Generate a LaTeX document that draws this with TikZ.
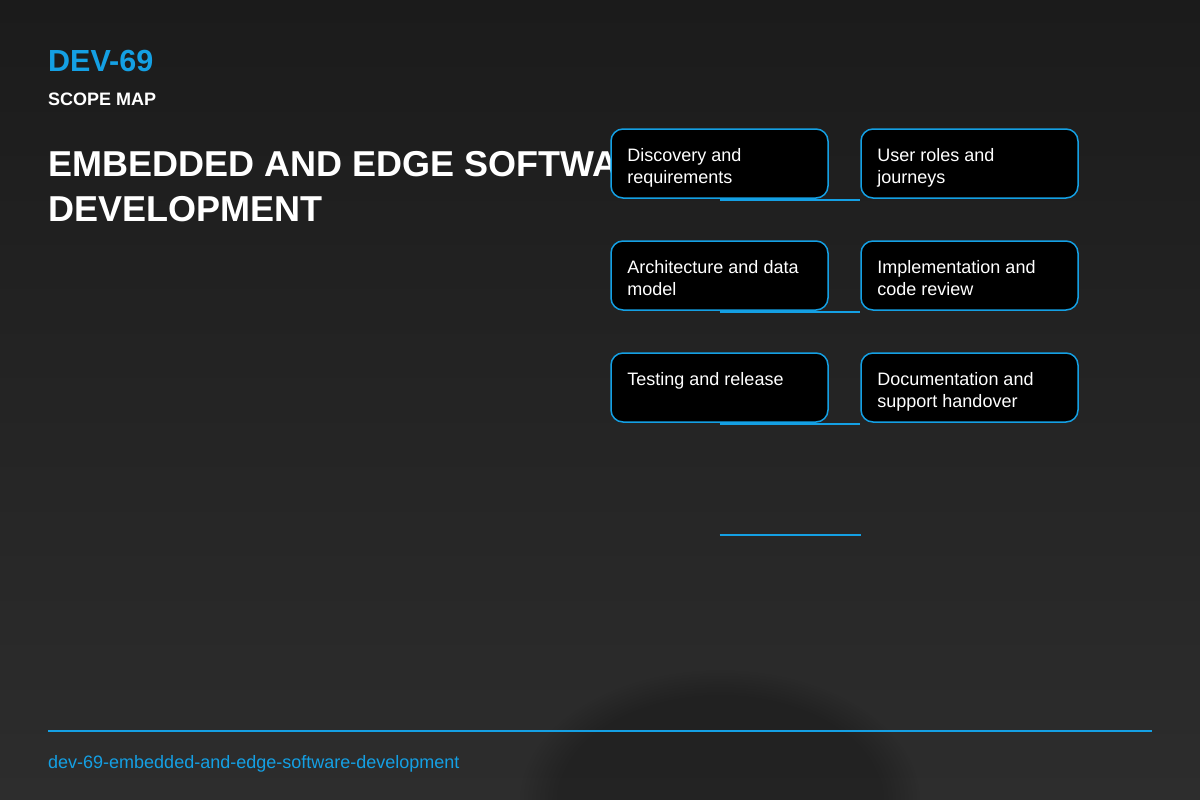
\documentclass[tikz,border=0pt]{standalone}
\usepackage{fontspec}
\setmainfont{Liberation Sans}
\usepackage{tikz}
\usetikzlibrary{positioning,fadings}
\definecolor{accent}{RGB}{20,160,228}
\definecolor{bgtop}{RGB}{27,27,27}
\definecolor{bgbot}{RGB}{45,45,45}
\tikzset{
    stagebox/.style={draw=accent, line width=1.5pt, fill=black, rounded corners=12pt,
        minimum width=217pt, minimum height=69pt, inner sep=0pt},
    stagetext/.style={text=white, align=left, inner sep=0pt,
        font=\fontsize{18}{22}\selectfont},
    link/.style={draw=accent, line width=2pt},
}
\def\Stage (#1) at (#2, #3) #4; {
    \node[stagebox] (#1) at (#2, #3) {};
    \node[stagetext, anchor=north west] (#1t) at ([shift={(17,20)}]#1.north west) {#4};
}

\begin{document}
\begin{tikzpicture}[x=1pt, y=-1pt]
        \useasboundingbox (0, 0) rectangle (1200, 800);
        \shade[top color=bgtop, bottom color=bgbot] (0, 0) rectangle (1200, 800);
        \begin{scope}
            \clip (0, 0) rectangle (1200, 800);
            \fill[black, fill opacity=0.22, path fading=circle with fuzzy edge 20 percent] (720, 800) ellipse (200 and 130);
        \end{scope}
        \node[anchor=base west, inner sep=0pt, text=accent, font=\fontsize{30.5}{36}\selectfont\bfseries] (code) at (48, 72) {DEV-69};
        \node[anchor=base west, inner sep=0pt, text=white, font=\fontsize{18}{22}\selectfont\bfseries] (kind) at (48, 105) {SCOPE MAP};
        \node[anchor=north west, inner sep=0pt, align=left, text=white, font=\fontsize{36}{45}\selectfont\bfseries] (title) at (48, 151.2) {EMBEDDED AND EDGE SOFTWARE\\DEVELOPMENT};
        % stages
        \Stage (disc) at (719.5, 163.5) {Discovery and\\requirements};
        \Stage (roles) at (969.5, 163.5) {User roles and\\journeys};
        \Stage (arch) at (719.5, 275.5) {Architecture and data\\model};
        \Stage (impl) at (969.5, 275.5) {Implementation and\\code review};
        \Stage (test) at (719.5, 387.5) {Testing and release};
        \Stage (docs) at (969.5, 387.5) {Documentation and\\support handover};
        \draw[link] ([yshift=-1.5]disc.south) -- ([yshift=-1.5]roles.south west);
        \draw[link] ([yshift=-1.5]arch.south) -- ([yshift=-1.5]impl.south west);
        \draw[link] ([yshift=-1.5]test.south) -- ([yshift=-1.5]docs.south west);
        \coordinate (rowl) at (719.5, 535);
        \coordinate (rowr) at (861, 535);
        \draw[link] (rowl) -- (rowr);
        % footer
        \coordinate (footl) at (48, 731);
        \coordinate (footr) at (1152, 731);
        \draw[link] (footl) -- (footr);
        \node[anchor=base west, inner sep=0pt, text=accent, font=\fontsize{18}{22}\selectfont] (slug) at (48, 768) {dev-69-embedded-and-edge-software-development};
    \end{tikzpicture}
\end{document}
